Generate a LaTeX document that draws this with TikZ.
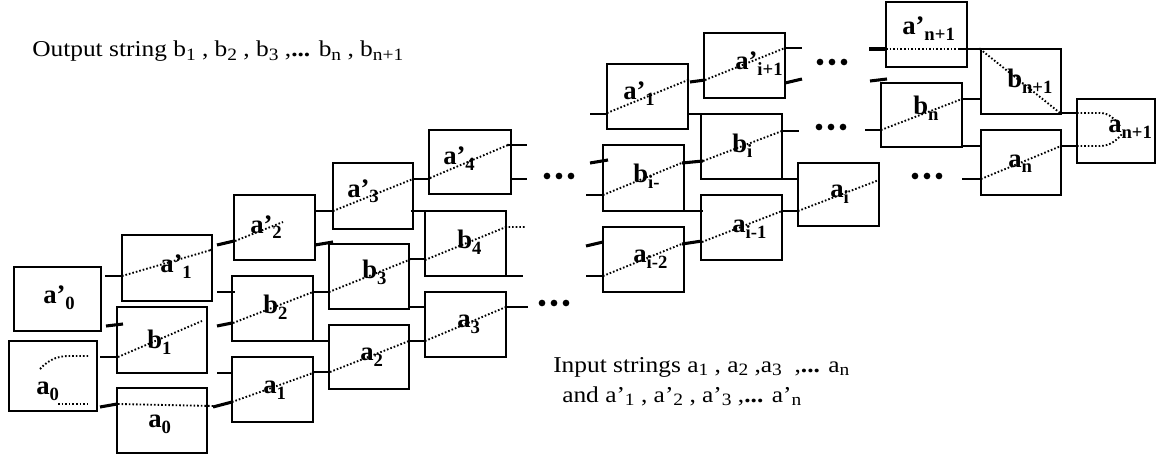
\documentclass[tikz,border=0pt]{standalone}
\usepackage{fontspec}
\setmainfont{Liberation Serif}
\newfontfamily\txtfont[FakeStretch=1.12]{Liberation Serif}
\newcommand\sbs[1]{\raisebox{-4.5pt}{\fontsize{14}{14}\selectfont\bfseries #1}}
\newcommand\ts[1]{\raisebox{-2.4pt}{\fontsize{13}{13}\selectfont #1}}
\newcommand\bx[5]{\node[box, minimum width={(#4-#2)*0.75pt}, minimum height={(#5-#3)*0.75pt}] (#1) at (#2,#3) {};}
\tikzset{
  box/.style={draw, line width=0.8pt, inner sep=0pt, outer sep=0pt, anchor=north west},
  thin/.style={line width=0.8pt},
  thk/.style={line width=2.3pt},
  dotl/.style={line width=1.4pt, dash pattern=on 1.2pt off 1.5pt},
  lbl/.style={anchor=base west, inner sep=0pt, font=\fontsize{20}{20}\selectfont\bfseries},
  txt/.style={anchor=base west, inner sep=0pt, font=\txtfont\fontsize{17}{19}\selectfont},
  ell/.style={fill=black},
}
\begin{document}
\begin{tikzpicture}[x={(0.75pt,0)}, y={(0,-0.75pt)}]
\useasboundingbox (0,0) rectangle (1156,456);
% boxes, left group
\bx{ap0}{14}{267}{101}{331}
\bx{a0l}{9}{341}{97}{411}
\bx{ap1}{122}{235}{212}{301}
\bx{b1}{117}{307}{207}{373}
\bx{a0}{117}{388}{207}{453}
\bx{b2}{232}{276}{313}{341}
\bx{a1}{232}{357}{313}{422}
\bx{ap2}{234}{195}{315}{260}
\bx{ap3}{333}{163}{413}{229}
\bx{ap4}{429}{130}{511}{194}
\bx{b3}{329}{244}{409}{309}
\bx{b4}{425}{211}{506}{276}
\bx{a3}{425}{292}{506}{357}
\bx{a2}{329}{325}{409}{389}
% boxes, right group
\bx{ap1r}{607}{64}{688}{129}
\bx{api1}{704}{33}{785}{98}
\bx{bi}{701}{114}{782}{179}
\bx{bim}{603}{145}{684}{211}
\bx{ai}{798}{163}{879}{226}
\bx{aim1}{701}{195}{782}{260}
\bx{aim2}{603}{227}{684}{292}
\bx{apn1}{886}{2}{967}{67}
\bx{bn1}{981}{49}{1061}{114}
\bx{bn}{881}{83}{962}{147}
\bx{an}{981}{130}{1061}{195}
\bx{an1}{1077}{99}{1155}{163}
% labels
\node[lbl] (Lap0) at (43,303) {a’\sbs{0}};
\node[lbl] (La0l) at (36,394) {a\sbs{0}};
\node[lbl] (La0) at (148,427) {a\sbs{0}};
\node[lbl] (Lb1) at (147,348) {b\sbs{1}};
\node[lbl] (Lap1) at (160,272) {a’\sbs{1}};
\node[lbl] (Lb2) at (263,313) {b\sbs{2}};
\node[lbl] (La1) at (263,393) {a\sbs{1}};
\node[lbl] (Lap2) at (250,233) {a’\sbs{2}};
\node[lbl] (Lap3) at (347,197) {a’\sbs{3}};
\node[lbl] (Lb3) at (362,278) {b\sbs{3}};
\node[lbl] (Lb4) at (457,248) {b\sbs{4}};
\node[lbl] (Lap4) at (443,165) {a’\sbs{4}};
\node[lbl] (La3) at (457,327) {a\sbs{3}};
\node[lbl] (La2) at (360,360) {a\sbs{2}};
\node[lbl] (Lap1r) at (623,100) {a’\sbs{1}};
\node[lbl] (Lapi1) at (735,70) {a’\sbs{i+1}};
\node[lbl] (Lbim) at (633,183) {b\sbs{i-}};
\node[lbl] (Lbi) at (732,152) {b\sbs{i}};
\node[lbl] (Lai) at (830,198) {a\sbs{i}};
\node[lbl] (Laim1) at (732,232) {a\sbs{i-1}};
\node[lbl] (Laim2) at (633,262) {a\sbs{i-2}};
\node[lbl] (Lapn1) at (902,35) {a’\sbs{n+1}};
\node[lbl] (Lbn1) at (1007,88) {b\sbs{n+1}};
\node[lbl] (Lbn) at (913,115) {b\sbs{n}};
\node[lbl] (Lan) at (1008,167) {a\sbs{n}};
\node[lbl] (Lan1) at (1108,133) {a\sbs{n+1}};
% texts
\node[txt] (tout) at (32,57) {Output string b\ts{1} , b\ts{2} , b\ts{3} ,\textbf{...} b\ts{n} , b\ts{n+1}};
\node[txt] (tin1) at (553,372) {Input strings a\ts{1} , a\ts{2} ,a\ts{3} \ ,\textbf{...} a\ts{n}};
\node[txt] (tin2) at (562,402) {and a’\ts{1} , a’\ts{2} , a’\ts{3} ,\textbf{...} a’\ts{n}};
% left group connectors
\draw[thin] (105,276) -- (122,276);
\draw[dotl] (122,276) -- (211,250);
\draw[thk] (217,245) -- (234,241);
\draw[dotl] (235,241) -- (283,222);
\draw[thin] (315,211) -- (333,211);
\draw[dotl] (333,211) -- (413,179);
\draw[thin] (413,179) -- (429,179);
\draw[dotl] (430,178) -- (508,145);
\draw[thin] (508,145) -- (527,145);
\draw[thin] (511,179) -- (527,179);
\draw[thin] (411,211) -- (430,211);
\draw[thk] (315,245) -- (333,242);
\draw[thk] (106,326) -- (123,324);
\draw[thin] (100,357) -- (117,357);
\draw[dotl] (118,357) -- (202,321);
\draw[thk] (217,326) -- (232,323);
\draw[dotl] (233,323) -- (313,292);
\draw[thin] (313,292) -- (329,292);
\draw[dotl] (329,292) -- (409,260);
\draw[thin] (409,259) -- (425,259);
\draw[dotl] (425,260) -- (506,227) -- (525,227);
\draw[thin] (506,276) -- (523,276);
\draw[thin] (217,292) -- (235,292);
\draw[thin] (217,373) -- (232,373);
\draw[thin] (312,341) -- (330,341);
\draw[thin] (409,307) -- (425,307);
\draw[thk] (100,407) -- (117,404);
\draw[dotl] (118,404) -- (213,406);
\draw[thk] (213,407) -- (232,402);
\draw[dotl] (232,402) -- (313,373);
\draw[thin] (313,372) -- (330,372);
\draw[dotl] (330,372) -- (409,341);
\draw[thin] (409,341) -- (425,341);
\draw[dotl] (425,341) -- (506,307);
\draw[thin] (506,307) -- (528,307);
\draw[dotl] (40,369) .. controls (50,358) and (60,356) .. (70,356) -- (89,356);
\draw[dotl] (58,404) -- (88,404);
% right group connectors
\draw[thk] (590,163) -- (608,160);
\draw[thin] (586,195) -- (603,195);
\draw[dotl] (603,195) -- (684,162);
\draw[thk] (586,246) -- (603,242);
\draw[thin] (586,276) -- (603,276);
\draw[dotl] (603,276) -- (684,243);
\draw[thin] (590,114) -- (607,114);
\draw[dotl] (607,113) -- (688,80);
\draw[thk] (690,82) -- (705,80);
\draw[dotl] (705,80) -- (785,48);
\draw[thin] (785,48) -- (802,48);
\draw[thk] (785,83) -- (802,79);
\draw[thin] (688,114) -- (701,114);
\draw[thk] (682,163) -- (703,161);
\draw[dotl] (703,161) -- (782,131);
\draw[thin] (782,131) -- (799,131);
\draw[thin] (684,211) -- (703,211);
\draw[thk] (682,244) -- (702,241);
\draw[dotl] (702,242) -- (782,211);
\draw[thin] (782,211) -- (798,211);
\draw[dotl] (798,211) -- (879,180);
\draw[thin] (782,179) -- (798,179);
\draw[thk] (869,49) -- (886,49);
\draw[dotl] (886,49) -- (960,49);
\draw[thin] (960,49) -- (980,49);
\draw[dotl] (980,49) -- (1060,113);
\draw[thk] (870,81) -- (887,79);
\draw[thin] (865,130) -- (881,130);
\draw[dotl] (881,130) -- (962,99);
\draw[thin] (962,99) -- (981,99);
\draw[thin] (962,146) -- (981,146);
\draw[thin] (962,179) -- (981,179);
\draw[dotl] (981,179) -- (1061,146);
\draw[thin] (1061,146) -- (1077,146);
\draw[thin] (1060,113) -- (1077,113);
\draw[dotl] (1077,113) -- (1100,113) .. controls (1110,113) and (1115,120) .. (1120,126);
\draw[dotl] (1077,146) -- (1100,146) .. controls (1110,146) and (1117,140) .. (1122,134);
% small junction dots
\foreach \p in {(122,276),(211,250),(333,211),(413,179),(430,178),(508,145),(409,260),(506,227),(313,373),(409,341),(506,307),(782,211),(1061,146),(980,49),(688,80),(785,48),(782,131),(962,99)}
  \fill \p circle (1.1pt);
% ellipses
\foreach \x in {547,559,571} \fill[ell] (\x,176) circle (2.5pt);
\foreach \x in {542,554,566} \fill[ell] (\x,303) circle (2.5pt);
\foreach \x in {820,832,844} \fill[ell] (\x,62) circle (2.5pt);
\foreach \x in {819,831,843} \fill[ell] (\x,127) circle (2.5pt);
\foreach \x in {915,927,939} \fill[ell] (\x,176) circle (2.5pt);
\end{tikzpicture}
\end{document}
